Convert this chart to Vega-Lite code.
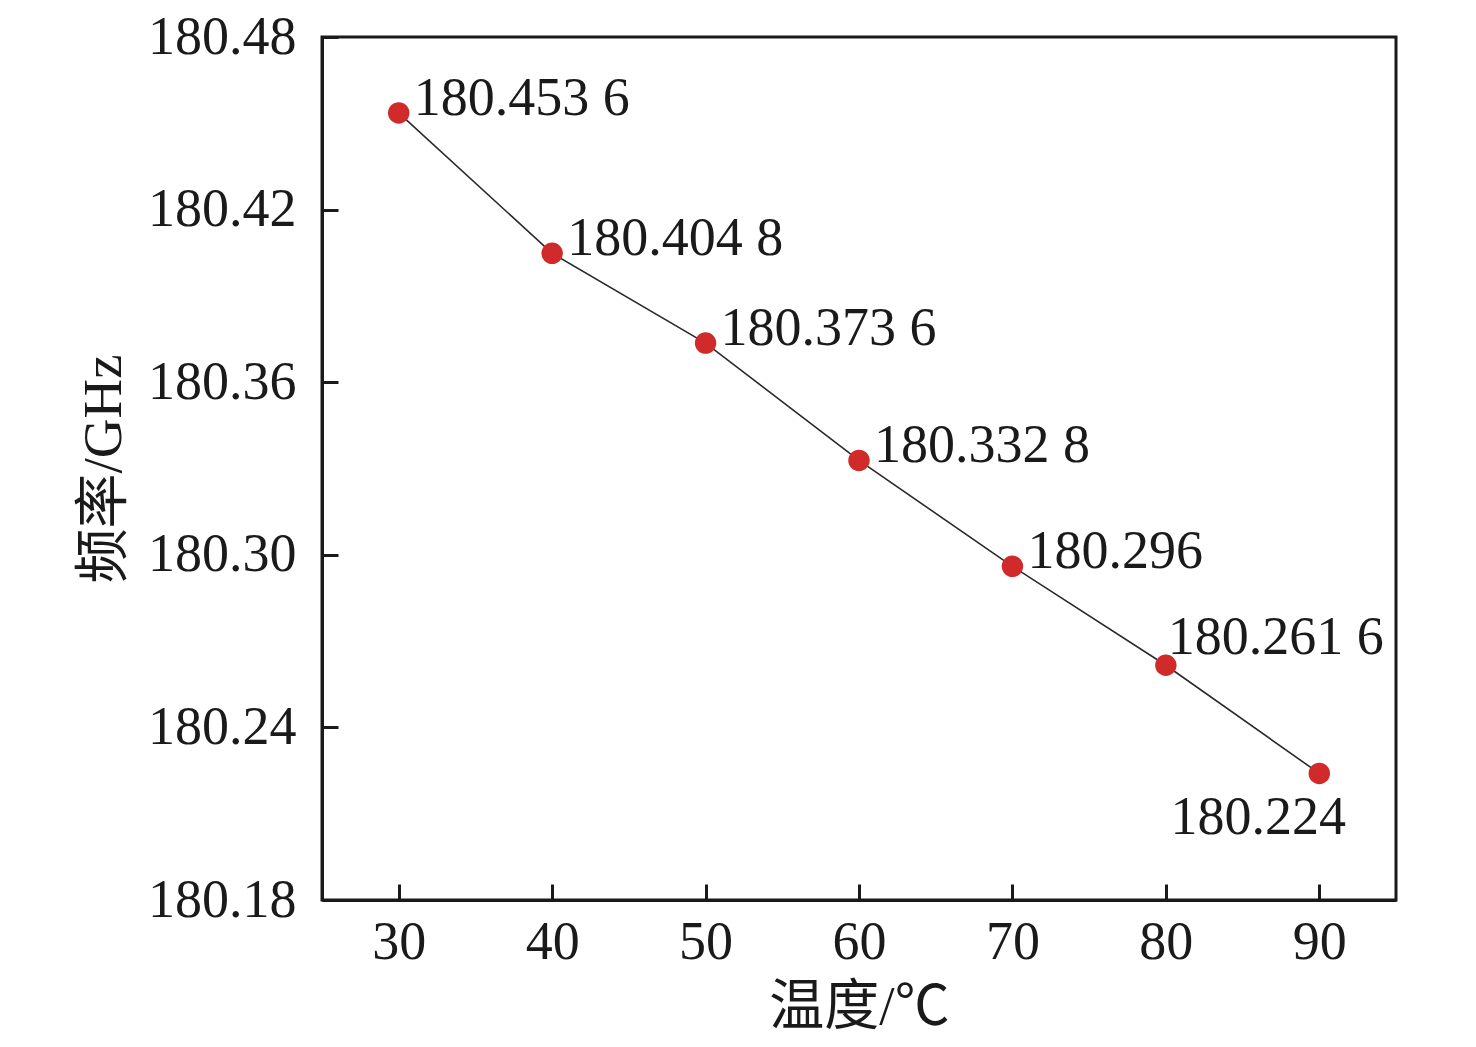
{
  "$schema": "https://vega.github.io/schema/vega-lite/v6.json",
  "width": 1074,
  "height": 863,
  "autosize": {"type": "none"},
  "padding": {"left": 322, "top": 37, "right": 80, "bottom": 147},
  "background": "white",
  "config": {
    "view": {"stroke": "#1a1a1a", "strokeWidth": 3},
    "axis": {
      "labelFont": "Liberation Serif",
      "labelFontSize": 54,
      "labelColor": "#1a1a1a",
      "titleFont": "Liberation Serif, 'Noto Sans CJK SC'",
      "titleFontSize": 55,
      "titleFontWeight": "normal",
      "titleColor": "#1a1a1a",
      "domainColor": "#1a1a1a",
      "domainWidth": 3,
      "tickColor": "#1a1a1a",
      "tickWidth": 3,
      "grid": false
    }
  },
  "data": {
    "values": [
      {"t": 30, "f": 180.4536, "label": "180.453 6"},
      {"t": 40, "f": 180.4048, "label": "180.404 8"},
      {"t": 50, "f": 180.3736, "label": "180.373 6"},
      {"t": 60, "f": 180.3328, "label": "180.332 8"},
      {"t": 70, "f": 180.296, "label": "180.296"},
      {"t": 80, "f": 180.2616, "label": "180.261 6"},
      {"t": 90, "f": 180.224, "label": "180.224"}
    ]
  },
  "encoding": {
    "x": {
      "field": "t", "type": "quantitative",
      "scale": {"domain": [25, 95], "nice": false, "zero": false},
      "axis": {"title": "温度/℃", "values": [30, 40, 50, 60, 70, 80, 90], "tickSize": -16, "labelPadding": 31, "titlePadding": 11}
    },
    "y": {
      "field": "f", "type": "quantitative",
      "scale": {"domain": [180.18, 180.48], "nice": false, "zero": false},
      "axis": {"title": "频率/GHz", "values": [180.18, 180.24, 180.3, 180.36, 180.42, 180.48], "format": ".2f", "tickSize": -16, "labelPadding": 42, "titlePadding": 15}
    }
  },
  "layer": [
    {"mark": {"type": "line", "color": "#2a2a2a", "strokeWidth": 1.6}},
    {"mark": {"type": "point", "filled": true, "shape": "circle", "size": 460, "color": "#d02a2a", "opacity": 1}},
    {
      "transform": [{"filter": "datum.t <= 70"}],
      "mark": {"type": "text", "align": "left", "baseline": "alphabetic", "dx": 15, "dy": 2, "font": "Liberation Serif", "fontSize": 54, "color": "#1a1a1a"},
      "encoding": {"text": {"field": "label"}}
    },
    {
      "transform": [{"filter": "datum.t == 80"}],
      "mark": {"type": "text", "align": "left", "baseline": "alphabetic", "dx": 2, "dy": -11, "font": "Liberation Serif", "fontSize": 54, "color": "#1a1a1a"},
      "encoding": {"text": {"field": "label"}}
    },
    {
      "transform": [{"filter": "datum.t == 90"}],
      "mark": {"type": "text", "align": "center", "baseline": "alphabetic", "dx": -61, "dy": 61, "font": "Liberation Serif", "fontSize": 54, "color": "#1a1a1a"},
      "encoding": {"text": {"field": "label"}}
    }
  ]
}
